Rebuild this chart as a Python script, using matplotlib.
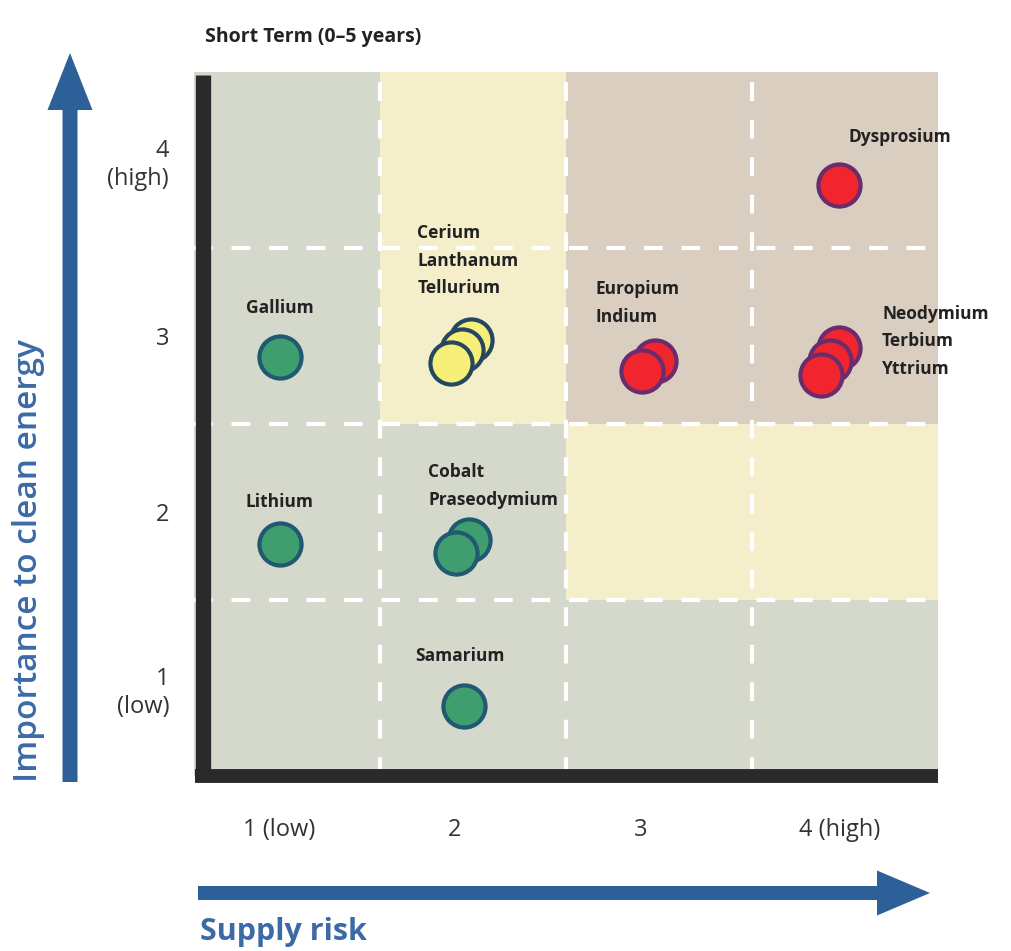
import numpy as np
import matplotlib
matplotlib.use('Agg')
import matplotlib.pyplot as plt
from matplotlib.colors import ListedColormap
from matplotlib.patches import FancyArrow

# risk zone per cell (rows: importance 1..4, cols: supply risk 1..4)
# 0 = low (grey), 1 = medium (yellow), 2 = critical (tan)
zones = np.array([[0, 0, 0, 0],
                  [0, 0, 1, 1],
                  [0, 1, 2, 2],
                  [0, 1, 2, 2]])

x_ticks = [0.96, 1.90, 2.90, 3.97]
x_labels = ['1 (low)', '2', '3', '4 (high)']
y_ticks = [1, 2, 3, 4]
y_labels = ['1\n(low)', '2', '3', '4\n(high)']

# element groups: label, supply risk, importance (stacked back to front), category
groups = [
    ('Gallium', [0.96], [2.88], 'green'),
    ('Lithium', [0.96], [1.82], 'green'),
    ('Samarium', [1.95], [0.90], 'green'),
    ('Cobalt\nPraseodymium', [1.98, 1.91], [1.84, 1.77], 'green'),
    ('Cerium\nLanthanum\nTellurium', [1.99, 1.94, 1.88], [2.98, 2.92, 2.85], 'yellow'),
    ('Dysprosium', [3.97], [3.86], 'red'),
    ('Europium\nIndium', [2.98, 2.91], [2.86, 2.80], 'red'),
    ('Neodymium\nTerbium\nYttrium', [3.97, 3.92, 3.87], [2.93, 2.86, 2.78], 'red'),
]

# label anchors (x, y, ha)
label_pos = {
    'Gallium': (0.96, 3.16, 'center'),
    'Lithium': (0.96, 2.06, 'center'),
    'Samarium': (1.93, 1.18, 'center'),
    'Cobalt\nPraseodymium': (1.76, 2.15, 'left'),
    'Cerium\nLanthanum\nTellurium': (1.70, 3.43, 'left'),
    'Dysprosium': (4.02, 4.13, 'left'),
    'Europium\nIndium': (2.66, 3.19, 'left'),
    'Neodymium\nTerbium\nYttrium': (4.20, 2.97, 'left'),
}

styles = {
    'green': dict(fc='#3f9e6e', ec='#1f5a72'),
    'yellow': dict(fc='#f6f07a', ec='#27465f'),
    'red': dict(fc='#f0252e', ec='#6a2c6e'),
}

blue = '#2d5f99'
text_blue = '#3c6aa6'
plt.rcParams['font.family'] = ['Open Sans', 'DejaVu Sans']

fig = plt.figure(figsize=(10.12, 9.51), dpi=100)
ax = fig.add_axes([0.1917, 0.184, 0.735, 0.740])

cmap = ListedColormap(['#d5d9cc', '#f4eecb', '#d9cebf'])
edges = np.arange(0.5, 5.0, 1.0)
ax.pcolormesh(edges, edges, zones, cmap=cmap, vmin=0, vmax=2, zorder=0)

for v in [1.5, 2.5, 3.5]:
    ax.axhline(v, color='white', lw=3, dashes=(4.5, 4.5), zorder=1)
    ax.axvline(v, color='white', lw=3, dashes=(4.5, 4.5), zorder=1)

for name, xs, ys, cat in groups:
    for x, y in zip(xs, ys):
        ax.scatter(x, y, s=920, c=styles[cat]['fc'], edgecolors=styles[cat]['ec'],
                   linewidths=3, zorder=3)
    lx, ly, ha = label_pos[name]
    ax.text(lx, ly, name, ha=ha, va='center', fontsize=12.5, fontweight='bold',
            color='#222222', linespacing=1.7, zorder=4, clip_on=False)

ax.set_xlim(0.5, 4.5)
ax.set_ylim(0.5, 4.5)
ax.set_xticks(x_ticks)
ax.set_xticklabels(x_labels)
ax.set_yticks(y_ticks)
ax.set_yticklabels(y_labels, multialignment='right')
ax.tick_params(axis='both', length=0, labelsize=17, labelcolor='#333333')
ax.tick_params(axis='x', pad=30)
ax.tick_params(axis='y', pad=18)

for side in ax.spines:
    ax.spines[side].set_visible(False)
# heavy black axis bars
ax.plot([0.0121, 0.0121], [0, 0.996], transform=ax.transAxes, color='#2a2a2a',
        lw=11, solid_capstyle='butt', clip_on=False, zorder=5)
ax.plot([0.002, 1.0], [0, 0], transform=ax.transAxes, color='#2a2a2a',
        lw=10, solid_capstyle='butt', clip_on=False, zorder=5)

fig.text(205 / 1012, 1 - 37 / 951, 'Short Term (0\u20135 years)', ha='left', va='center',
         fontsize=14, fontweight='bold', color='#222222')

# axis arrows (figure inches)
fig.add_artist(FancyArrow(0.70, 1.69, 0, 7.29, width=0.15, head_width=0.45,
                          head_length=0.57, length_includes_head=True, color=blue,
                          lw=0, transform=fig.dpi_scale_trans))
fig.add_artist(FancyArrow(1.98, 0.58, 7.32, 0, width=0.14, head_width=0.45,
                          head_length=0.53, length_includes_head=True, color=blue,
                          lw=0, transform=fig.dpi_scale_trans))

fig.text(29 / 1012, 1 - 561 / 951, 'Importance to clean energy', rotation=90,
         ha='center', va='center', fontsize=24, fontweight='semibold', color=text_blue)
fig.text(200 / 1012, 1 - 932 / 951, 'Supply risk', ha='left', va='center',
         fontsize=22, fontweight='bold', color=text_blue)

fig.savefig('out.png', dpi=100)
